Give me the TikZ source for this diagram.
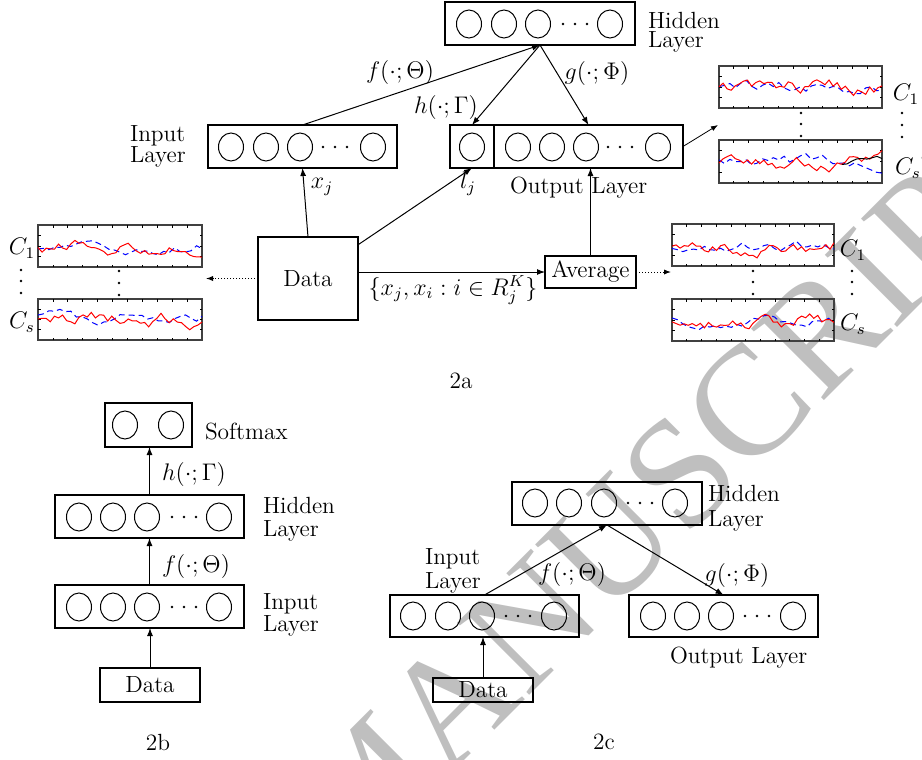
\documentclass[tikz,border=0pt]{standalone}
\usepackage{fontspec}
\newfontfamily\wmfont{Liberation Serif}
\usetikzlibrary{arrows.meta}

\newcommand\nrn[2]{\draw[neuron] (#1,#2) ellipse [x radius=6.25pt, y radius=7pt];}
\newcommand\ddd[2]{\foreach \d in {-12,0,12}{\fill ({#1+\d},#2) circle [radius=0.7pt];}}
\newcommand\vdd[4]{\foreach \d in {#2,#3,#4}{\fill (#1,\d) circle [radius=0.7pt];}}
% random walk (AR(1)) curve: x0 x1 ymid amp n style
\newcommand\rwalk[6]{%
  \xdef\rwy{0}\xdef\rwpts{}%
  \foreach \k in {0,...,#5}{%
    \pgfmathsetmacro\rwx{#1+\k*(#2-#1)/#5}%
    \pgfmathsetmacro\rwn{0.75*\rwy+#4*rand}%
    \xdef\rwy{\rwn}%
    \pgfmathsetmacro\rwyy{#3+\rwn}%
    \xdef\rwpts{\rwpts (\rwx,\rwyy)}}%
  \draw[#6] plot coordinates {\rwpts};}
\newcommand\chartplot[5]{%
  \draw[chartframe] (#1,#2) rectangle (#3,#4);
  \foreach \i in {1,...,10}{%
    \pgfmathsetmacro\tx{#1+\i*(#3-#1)/11}
    \draw[tick] (\tx,#2) -- ++(0,2.5);
    \draw[tick] (\tx,#4) -- ++(0,-2.5);}
  \foreach \j in {1,2,3}{%
    \pgfmathsetmacro\ty{#2+\j*(#4-#2)/4}
    \draw[tick] (#1,\ty) -- ++(2.5,0);
    \draw[tick] (#3,\ty) -- ++(-2.5,0);}
  \pgfmathsetseed{#5}
  \pgfmathsetmacro\ym{(#2+#4)/2}
  \rwalk{#1}{#3}{\ym}{4.5}{30}{bluecurve}
  \rwalk{#1}{#3}{\ym}{5.5}{40}{redcurve}
}

\begin{document}
\begin{tikzpicture}[x=0.5pt,y=-0.5pt,
  every node/.style={font=\fontsize{11.7}{14}\selectfont, inner sep=0pt, outer sep=0pt},
  box/.style 2 args={draw, line width=0.6pt, minimum width=#1, minimum height=#2},
  neuron/.style={line width=0.5pt},
  arr/.style={-{Latex[length=4pt,width=3pt]}, line width=0.5pt},
  thinarr/.style={-{Latex[length=3.5pt,width=2.6pt]}, line width=0.4pt},
  dotarr/.style={-{Latex[length=3.5pt,width=2.6pt]}, line width=0.5pt, densely dotted},
  chartframe/.style={line width=0.6pt, draw=black!75},
  tick/.style={line width=0.4pt},
  redcurve/.style={red, line width=0.5pt},
  bluecurve/.style={blue, line width=0.5pt, dash pattern=on 3pt off 2pt},
  lbl/.style={anchor=base west},
]
\useasboundingbox (0,0) rectangle (922,760);

% watermark
\node[rotate=45, text=black!25, font=\wmfont\fontsize{78}{78}\selectfont] (wm) at (668,485) {MANUSCRIPT};

%================ 2a ================
\node[box={95pt}{21.5pt}] (hidA) at (540,23.5) {};
\nrn{469}{24}\nrn{504}{24}\nrn{538}{24}\ddd{575}{24}\nrn{610}{24}
\node[lbl] (hidAl1) at (648,28) {Hidden};
\node[lbl] (hidAl2) at (648,47) {Layer};

\node[box={94.5pt}{21.5pt}] (inA) at (302.5,146.5) {};
\nrn{231}{147}\nrn{266}{147}\nrn{300}{147}\ddd{335}{147}\nrn{373}{147}
\node[lbl] (inAl1) at (130,141) {Input};
\node[lbl] (inAl2) at (130,162) {Layer};

\node[box={22pt}{21.5pt}] (lj) at (472,146.5) {};
\nrn{472}{147}
\node[box={94.5pt}{21.5pt}] (outA) at (588.5,146.5) {};
\nrn{518}{147}\nrn{552}{147}\nrn{586}{147}\ddd{620}{147}\nrn{658}{147}
\node[lbl] (outAl) at (510,193) {Output Layer};

\node[box={50pt}{41.5pt}] (dataA) at (308,278.5) {Data};
\node[box={45.5pt}{16pt}] (avg) at (590.5,272) {Average};

% charts left
\chartplot{38}{225}{202}{267}{11}
\chartplot{38}{299}{202}{340}{23}
\node (lc1) at (22,248) {$C_1$};
\node (lcs) at (22,322) {$C_s$};
\vdd{21}{270}{281}{293}
\vdd{119}{271}{283}{295}
\coordinate (lch) at (206,278.5);

% charts bottom right
\chartplot{672}{224}{834}{266}{37}
\chartplot{672}{299}{834}{341}{41}
\node (bc1) at (853,250) {$C_1$};
\node (bcs) at (853,324) {$C_s$};
\vdd{753}{271}{282}{294}
\vdd{852}{271}{282}{294}
\coordinate (brch) at (671,272);

% charts top right
\chartplot{719}{66}{882}{108}{53}
\chartplot{719}{140}{882}{183}{67}
\pgfmathsetseed{5}
\rwalk{842}{882}{163}{3}{8}{line width=0.5pt}
\node (tc1) at (906,94) {$C_1$};
\node (tcs) at (908,168) {$C_s$};
\vdd{801}{113}{124}{136}
\vdd{902}{113}{125}{137}
\coordinate (trch) at (718,125);

% connectors 2a
\draw[arr] (inA.north) -- (hidA.south);
\node (fA) at (400,72) {$f(\cdot;\Theta)$};
\draw[arr] (hidA.south) -- (lj.north);
\node (hA) at (446,107) {$h(\cdot;\Gamma)$};
\draw[arr] (hidA.south) -- (outA.north);
\node (gA) at (597,73) {$g(\cdot;\Phi)$};
\draw[arr] (dataA.north) -- (inA.south);
\node (xjA) at (322,187) {$x_j$};
\draw[arr] (dataA) -- (lj.south);
\node (ljA) at (468,184) {$l_j$};
\draw[arr] (avg.west -| dataA.east) -- (avg.west);
\node (setA) at (453,290) {$\{x_j,x_i:i\in R_j^K\}$};
\draw[arr] (avg.north) -- (avg.north |- outA.south);
\draw[dotarr] (dataA.west) -- (lch);
\draw[dotarr] (avg.east) -- (brch);
\draw[thinarr] (outA.east) -- (trch);

\node (capA) at (461,381) {2a};

%================ 2b ================
\node[box={43.5pt}{22pt}] (smB) at (148.5,425) {};
\nrn{125}{425}\nrn{171}{425}
\node[lbl] (smBl) at (205,439) {Softmax};

\node[box={94.5pt}{21.5pt}] (hidB) at (149.5,516.5) {};
\nrn{79}{517}\nrn{113}{517}\nrn{147}{517}\ddd{184}{517}\nrn{219}{517}
\node[lbl] (hidBl1) at (263,513) {Hidden};
\node[lbl] (hidBl2) at (263,536) {Layer};

\node[box={94.5pt}{21.5pt}] (inB) at (149.5,606.5) {};
\nrn{79}{607}\nrn{113}{607}\nrn{147}{607}\ddd{184}{607}\nrn{219}{607}
\node[lbl] (inBl1) at (263,609) {Input};
\node[lbl] (inBl2) at (263,631) {Layer};

\node[box={50pt}{17pt}] (dataB) at (150,685) {Data};

\draw[arr] (dataB.north) -- (dataB.north |- inB.south);
\draw[arr] (inB.north) -- (inB.north |- hidB.south);
\draw[arr] (hidB.north) -- (hidB.north |- smB.south);
\node (hB) at (194,474) {$h(\cdot;\Gamma)$};
\node (fB) at (196,566) {$f(\cdot;\Theta)$};
\node (capB) at (158,742) {2b};

%================ 2c ================
\node[box={95pt}{21.5pt}] (hidC) at (607,503.5) {};
\nrn{535}{503}\nrn{569}{503}\nrn{604}{503}\ddd{640}{503}\nrn{675}{503}
\node[lbl] (hidCl1) at (708,501) {Hidden};
\node[lbl] (hidCl2) at (708,526) {Layer};

\node[box={94.5pt}{21pt}] (inC) at (484.5,616) {};
\nrn{413}{616}\nrn{448}{616}\nrn{482}{616}\ddd{518}{616}\nrn{554}{616}
\node[lbl] (inCl1) at (425,564) {Input};
\node[lbl] (inCl2) at (425,588) {Layer};

\node[box={94.5pt}{21pt}] (outC) at (723.5,616) {};
\nrn{653}{616}\nrn{687}{616}\nrn{721}{616}\ddd{757}{616}\nrn{793}{616}
\node[lbl] (outCl) at (670,663) {Output Layer};

\node[box={50pt}{12pt}] (dataC) at (483,690) {Data};

\draw[arr] (dataC.north) -- (dataC.north |- inC.south);
\draw[arr] (inC.north) -- (hidC.south);
\draw[arr] (hidC.south) -- (outC.north);
\node (fC) at (572,574) {$f(\cdot;\Theta)$};
\node (gC) at (737,575) {$g(\cdot;\Phi)$};
\node (capC) at (604,742) {2c};
\end{tikzpicture}
\end{document}
